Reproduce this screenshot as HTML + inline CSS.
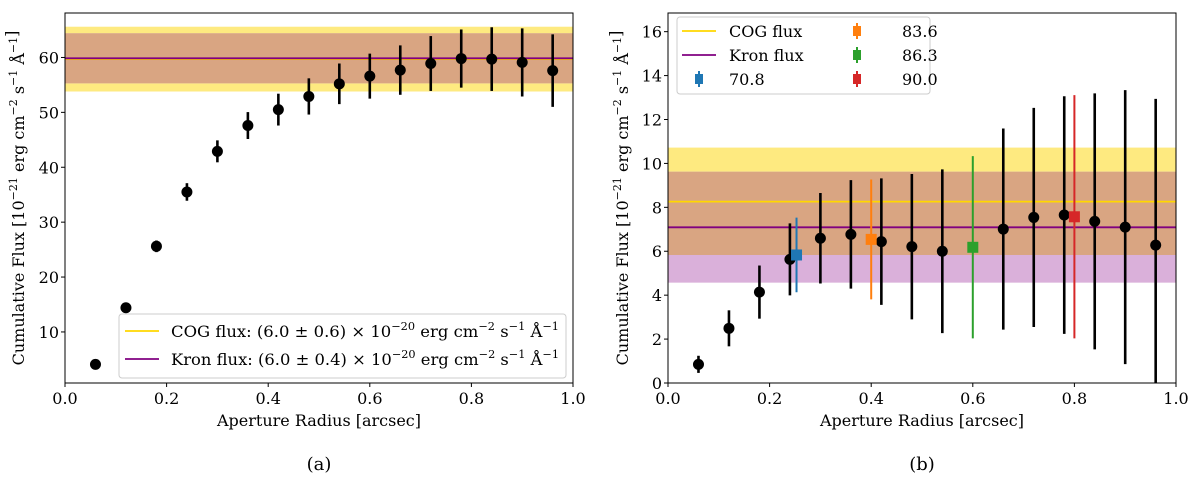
<!DOCTYPE html>
<html><head><meta charset="utf-8"><style>
html,body{margin:0;padding:0;background:#fff;}
svg{display:block;font-family:"DejaVu Serif","Liberation Serif",serif;}
</style></head><body>
<svg id="fig" width="1200" height="477" viewBox="0 0 1200 477"></svg>
<script>
// ----- panel (a) data -----
const radiiA = [0.06,0.12,0.18,0.24,0.30,0.36,0.42,0.48,0.54,0.60,0.66,0.72,0.78,0.84,0.90,0.96];
const fluxA  = [4.1,14.4,25.6,35.5,42.9,47.6,50.5,52.9,55.2,56.6,57.7,58.9,59.8,59.7,59.1,57.6];
const errA   = [0.3,0.5,1.06,1.6,2.0,2.45,2.9,3.3,3.7,4.1,4.5,5.0,5.3,5.8,6.2,6.6];
const cogA = [59.7, 53.8, 65.6];   // value, low, high
const kronA = [59.85, 55.3, 64.4];
const xTicks = [0.0,0.2,0.4,0.6,0.8,1.0];
const yTicksA = [10,20,30,40,50,60];
// ----- panel (b) data -----
const radiiB = [0.06,0.12,0.18,0.24,0.30,0.36,0.42,0.48,0.54,0.66,0.72,0.78,0.84,0.90,0.96];
const fluxB  = [0.85,2.49,4.14,5.63,6.59,6.77,6.44,6.21,6.0,7.01,7.54,7.65,7.36,7.1,6.28];
const errB   = [0.39,0.82,1.21,1.64,2.06,2.47,2.88,3.31,3.73,4.58,4.99,5.41,5.83,6.24,6.66];
const specLabels = ["70.8","83.6","86.3","90.0"];
const specX = [0.253,0.40,0.60,0.80];
const specY = [5.83,6.54,6.18,7.57];
const specErr = [1.7,2.73,4.15,5.54];
const specColors = ["#1f77b4","#ff7f0e","#2ca02c","#d62728"];
const cogB = [8.26, 5.83, 10.72];
const kronB = [7.09, 4.57, 9.62];
const yTicksB = [0,2,4,6,8,10,12,14,16];

const NS="http://www.w3.org/2000/svg";
const svg=document.getElementById('fig');
function el(tag,attrs,parent){const e=document.createElementNS(NS,tag);for(const k in attrs)e.setAttribute(k,attrs[k]);(parent||svg).appendChild(e);return e;}
const SUP=(s)=>'<tspan dy="-7" font-size="11">'+s+'</tspan><tspan dy="7">';
const UNITS=' erg cm'+SUP('−2')+' s</tspan>'+SUP('−1')+' Å</tspan>'+SUP('−1')+'</tspan>';

function panel(cfg){
  const g=el('g',{});
  
  
  const X=v=>cfg.x0+(v-cfg.xmin)/(cfg.xmax-cfg.xmin)*(cfg.x1-cfg.x0);
  const Y=v=>cfg.yb-(v-cfg.ymin)/(cfg.ymax-cfg.ymin)*(cfg.yb-cfg.yt);
  const cl=v=>Math.max(cfg.yt,Math.min(cfg.yb,v));
  const cTop=Y(cfg.cog[2]),cBot=Y(cfg.cog[1]),kTop=Y(cfg.kron[2]),kBot=Y(cfg.kron[1]);
  const yb=el('rect',{x:cfg.x0,y:cTop,width:cfg.x1-cfg.x0,height:cBot-cTop,fill:'#feea80'},g);
  
  const pb=el('rect',{x:cfg.x0,y:kTop,width:cfg.x1-cfg.x0,height:kBot-kTop,fill:'#dab0da'},g);
  
  const oT=Math.max(cTop,kTop),oB=Math.min(cBot,kBot);
  if(oB>oT){const ob=el('rect',{x:cfg.x0,y:oT,width:cfg.x1-cfg.x0,height:oB-oT,fill:'#d9a582'},g);
    }
  const cline=el('line',{x1:cfg.x0,x2:cfg.x1,y1:Y(cfg.cog[0]),y2:Y(cfg.cog[0]),stroke:'#ffd700','stroke-width':1.8},g);
  
  const kline=el('line',{x1:cfg.x0,x2:cfg.x1,y1:Y(cfg.kron[0]),y2:Y(cfg.kron[0]),stroke:'#800080','stroke-width':1.8},g);
  
  cfg.rx.forEach((r,i)=>{
    const e=el('line',{x1:X(r),x2:X(r),y1:cl(Y(cfg.f[i]+cfg.e[i])),y2:cl(Y(cfg.f[i]-cfg.e[i])),stroke:'#000','stroke-width':2.6},g);
    
    const c=el('circle',{cx:X(r),cy:Y(cfg.f[i]),r:5.5,fill:'#000'},g);
    
  });
  if(cfg.spec){
    specX.forEach((r,i)=>{
      const e=el('line',{x1:X(r),x2:X(r),y1:cl(Y(specY[i]+specErr[i])),y2:cl(Y(specY[i]-specErr[i])),stroke:specColors[i],'stroke-width':2},g);
      
      const s=el('rect',{x:X(r)-5.5,y:Y(specY[i])-5.5,width:11,height:11,fill:specColors[i]},g);
      
    });
  }
  const fr=el('rect',{x:cfg.x0,y:cfg.yt,width:cfg.x1-cfg.x0,height:cfg.yb-cfg.yt,fill:'none',stroke:'#000','stroke-width':1},g);
  
  xTicks.forEach(t=>{
    el('line',{x1:X(t),x2:X(t),y1:cfg.yb,y2:cfg.yb+4,stroke:'#000'},g);
    const tx=el('text',{x:X(t),y:cfg.yb+21,'font-size':16,'text-anchor':'middle'},g);
    tx.textContent=t.toFixed(1);
    
  });
  cfg.yt_.forEach(t=>{
    el('line',{x1:cfg.x0-4,x2:cfg.x0,y1:Y(t),y2:Y(t),stroke:'#000'},g);
    const tx=el('text',{x:cfg.x0-6,y:Y(t)+6,'font-size':16,'text-anchor':'end'},g);
    tx.textContent=String(t);
    
  });
  const xl=el('text',{x:(cfg.x0+cfg.x1)/2,y:cfg.yb+43,'font-size':16,'text-anchor':'middle'},g);
  xl.textContent='Aperture Radius [arcsec]';
  
  const yl=el('text',{x:0,y:0,'font-size':16,'text-anchor':'middle',transform:`translate(${cfg.ylx},${(cfg.yt+cfg.yb)/2}) rotate(-90)`},g);
  yl.innerHTML='Cumulative Flux [10'+SUP('−21')+UNITS.slice(0)+']</tspan>';
  
  const cap=el('text',{x:(cfg.x0+cfg.x1)/2,y:470,'font-size':18,'text-anchor':'middle'},g);
  cap.textContent=cfg.caption;
  
  return {g,X,Y};
}

const A=panel({name:'panel-a',x0:65,x1:573,yt:13,yb:383,xmin:0,xmax:1,ymin:0.7,ymax:68.1,
  rx:radiiA,f:fluxA,e:errA,cog:cogA,kron:kronA,yt_:yTicksA,ylx:24,caption:'(a)'});
const B=panel({name:'panel-b',x0:668,x1:1176,yt:13,yb:383,xmin:0,xmax:1,ymin:0,ymax:16.85,
  rx:radiiB,f:fluxB,e:errB,cog:cogB,kron:kronB,yt_:yTicksB,ylx:628,caption:'(b)',spec:true});

(function(){
  const g=el('g',{},A.g);
  
  el('rect',{x:119,y:314,width:447,height:64,rx:3,fill:'#fff','fill-opacity':0.85,stroke:'#ccc'},g);
  const items=[['#ffd700','COG flux: (6.0 ± 0.6) × 10'],['#800080','Kron flux: (6.0 ± 0.4) × 10']];
  items.forEach((it,i)=>{
    const y=331+i*28;
    el('line',{x1:125,x2:159,y1:y,y2:y,stroke:it[0],'stroke-width':1.8},g);
    const t=el('text',{x:171,y:y+6,'font-size':16,textLength:388,lengthAdjust:'spacingAndGlyphs'},g);
    t.innerHTML=it[1]+SUP('−20')+UNITS;
    
  });
})();
(function(){
  const g=el('g',{},B.g);
  
  el('rect',{x:677,y:17,width:253,height:77,rx:3,fill:'#fff','fill-opacity':0.85,stroke:'#ccc'},g);
  const rows=[[682,31,'line','#ffd700','COG flux'],[682,55,'line','#800080','Kron flux'],[682,79,'sq',specColors[0],specLabels[0]],
    [840,31,'sq',specColors[1],specLabels[1]],[840,55,'sq',specColors[2],specLabels[2]],[840,79,'sq',specColors[3],specLabels[3]]];
  rows.forEach(r=>{
    if(r[2]==='line') el('line',{x1:r[0],x2:r[0]+34,y1:r[1],y2:r[1],stroke:r[3],'stroke-width':1.8},g);
    else { el('line',{x1:r[0]+17,x2:r[0]+17,y1:r[1]-8,y2:r[1]+8,stroke:r[3],'stroke-width':2},g);
      el('rect',{x:r[0]+13,y:r[1]-5,width:8,height:10,fill:r[3]},g); }
    const t=el('text',{x:r[0]===682?r[0]+47:r[0]+62,y:r[1]+6,'font-size':16},g);
    t.textContent=r[4];
    
  });
})();
</script>
</body></html>
